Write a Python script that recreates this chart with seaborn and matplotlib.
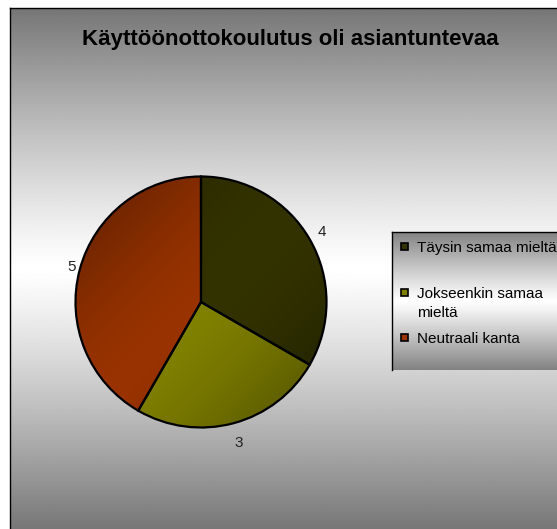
import numpy as np
import matplotlib
matplotlib.use("Agg")
import matplotlib.pyplot as plt
from matplotlib.patches import Rectangle
from matplotlib.colors import to_rgb
import seaborn as sns

sns.set_style("white")
plt.rcParams["font.family"] = ["Liberation Sans", "DejaVu Sans"]

title = "Käyttöönottokoulutus oli asiantuntevaa"
categories = ["Täysin samaa mieltä", "Jokseenkin samaa\nmieltä", "Neutraali kanta"]
counts = [4, 3, 5]
slice_colors = sns.color_palette(["#333300", "#808000", "#993300"])

W, H = 557, 529
fig = plt.figure(figsize=(W / 100, H / 100), dpi=100)
fig.patch.set_facecolor("white")


def px_axes(x0, y0, x1, y1, **kw):
    """Axes placed by pixel box (top-left origin)."""
    return fig.add_axes([x0 / W, 1 - y1 / H, (x1 - x0) / W, (y1 - y0) / H], **kw)


def gray_ramp(n, lo=118, power=1.2, center=0.5):
    t = np.linspace(0, 1, n)
    d = np.where(t < center, (center - t) / center, (t - center) / (1 - center))
    g = (255 - (255 - lo) * d ** power) / 255.0
    return np.repeat(g[:, None], 2, axis=1)


# chart area with vertical gray-white-gray gradient
bg = px_axes(10, 8, W + 2, H + 2)
bg.imshow(gray_ramp(400, lo=118, center=(268 - 8) / (H - 8)), cmap="gray", vmin=0, vmax=1,
          aspect="auto", extent=[0, 1, 0, 1], interpolation="bilinear")
bg.set_xlim(0, 1)
bg.set_ylim(0, 1)
bg.set_xticks([])
bg.set_yticks([])
for side in ["right", "bottom"]:
    bg.spines[side].set_visible(False)
for side in ["left", "top"]:
    bg.spines[side].set_color("black")
    bg.spines[side].set_linewidth(1.0)

fig.text(290 / W, 1 - 45 / H, title, ha="center", va="baseline",
         fontsize=16, fontweight="bold", color="black")

# pie
cx, cy, R, pad = 201, 302, 125.5, 135
ax = px_axes(cx - pad, cy - pad, cx + pad, cy + pad)
ax.patch.set_alpha(0)
wedges, texts = ax.pie(counts, labels=[str(c) for c in counts], colors=slice_colors,
                       startangle=90, counterclock=False, radius=1,
                       labeldistance=1.12,
                       wedgeprops=dict(edgecolor="black", linewidth=1.6),
                       textprops=dict(fontsize=11, color="#222222"))
lim = pad / R

# value labels sit just outside the rim, along each slice's mid-angle
label_dist = [1.11, 1.16, 1.07]
for w, t, d in zip(wedges, texts, label_dist):
    mid = np.deg2rad((w.theta1 + w.theta2) / 2)
    t.set_position((d * np.cos(mid), d * np.sin(mid)))
    t.set_ha("center")
    t.set_va("center")

# diagonal shading inside each slice
n = 300
xs = np.linspace(-1, 1, n)
X, Y = np.meshgrid(xs, xs[::-1])
s = (X - Y) / 2.0  # from upper-left (-1) to lower-right (+1)
shade = 1.0 - 0.38 * np.clip(np.abs(s) / 0.9, 0, 1) ** 1.6
for w, col in zip(wedges, slice_colors):
    rgb = np.array(to_rgb(col))
    img = np.clip(shade[..., None] * rgb[None, None, :], 0, 1)
    im = ax.imshow(img, extent=[-1.02, 1.02, -1.02, 1.02], interpolation="bilinear", zorder=1)
    im.set_clip_path(w)
    w.set_facecolor("none")
    w.set_zorder(3)
ax.set_xlim(-lim, lim)
ax.set_ylim(-lim, lim)
ax.set_aspect("equal")
ax.set_axis_off()

# legend box
lg = px_axes(392, 232, W + 2, 370)
lg.imshow(gray_ramp(200, lo=130, power=1.1, center=0.5), cmap="gray", vmin=0, vmax=1,
          aspect="auto", extent=[392, W + 2, 370, 232], interpolation="bilinear")
lg.set_xlim(392, W + 2)
lg.set_ylim(370, 232)
lg.set_xticks([])
lg.set_yticks([])
for side in ["right", "bottom"]:
    lg.spines[side].set_visible(False)
for side in ["left", "top"]:
    lg.spines[side].set_color("black")
    lg.spines[side].set_linewidth(1.0)

entry_baseline = [252, 298, 343]
line_step = 19
for base, label, col in zip(entry_baseline, categories, slice_colors):
    lg.add_patch(Rectangle((401, base - 9), 7, 7, facecolor=col, edgecolor="black",
                           linewidth=1.2, zorder=3))
    for i, line in enumerate(label.split("\n")):
        lg.text(417, base + i * line_step, line, ha="left", va="baseline",
                fontsize=11, color="black", zorder=3)

fig.savefig("out.png", dpi=100, facecolor="white")
